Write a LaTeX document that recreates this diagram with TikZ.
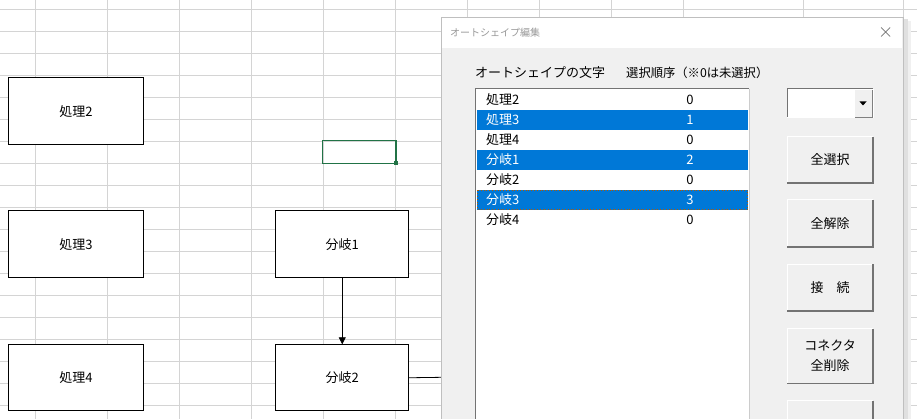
\documentclass[tikz,border=0pt]{standalone}
\usepackage{fontspec}
\setmainfont{Noto Sans CJK JP}
\usetikzlibrary{arrows.meta}
\definecolor{selblue}{HTML}{0078D7}
\definecolor{dlgbg}{HTML}{F0F0F0}
\definecolor{gridc}{HTML}{D4D4D4}
\definecolor{xlgreen}{HTML}{217346}
\tikzset{
  shape box/.style={draw=black,line width=0.9pt,fill=white},
  txt/.style={font=\fontsize{13}{15}\selectfont,inner sep=0pt},
  btn/.style={fill=dlgbg,draw=white,line width=1pt},
}
\begin{document}
\begin{tikzpicture}[x=1pt,y=-1pt]
\useasboundingbox (0,0) rectangle (917,419);
\fill[white] (0,0) rectangle (917,419);
% grid
\foreach \x in {35.7,107.7,179.7,251.7,323.7,395.7,467,539,611,683,803,903}
  \draw[gridc,line width=0.7pt] (\x,0) -- (\x,419);
\foreach \k in {0,...,18}
  \draw[gridc,line width=0.7pt] (0,9.3+22*\k) -- (917,9.3+22*\k);
% green selected cell
\draw[xlgreen,line width=1.3pt] (322.7,140.7) rectangle (396,163.7);
\fill[xlgreen] (394,161.5) rectangle (398,165.5);
% shapes
\node[shape box,minimum width=134.4pt,minimum height=67pt,anchor=north west,txt] (p2) at (8.3,77.3) {処理2};
\node[shape box,minimum width=134.4pt,minimum height=67pt,anchor=north west,txt] (p3) at (8.3,210.3) {処理3};
\node[shape box,minimum width=134.4pt,minimum height=66pt,anchor=north west,txt] (p4) at (8.3,344.3) {処理4};
\node[shape box,minimum width=133pt,minimum height=67pt,anchor=north west,txt] (b1) at (275.3,210.3) {分岐1};
\node[shape box,minimum width=133pt,minimum height=66pt,anchor=north west,txt] (b2) at (275.3,344.3) {分岐2};
\draw[line width=0.8pt,-{Triangle[length=7pt,width=7pt]}] (b1.south) -- (b2.north);
\coordinate (edge) at (442,377.3);
\draw[line width=0.8pt] (b2.east) -- (edge);
% dialog shadow
\fill[black!12] (903,19) rectangle (908,419);
\fill[black!6] (908,21) rectangle (911,419);
% dialog
\fill[dlgbg] (441,17) rectangle (903,419);
\fill[white] (442,18) rectangle (902,48);
\draw[black!25,line width=0.8pt] (441,419) -- (441,17) -- (903,17) -- (903,419);
\node[txt,anchor=west,text=black!40,font=\fontsize{10}{12}\selectfont] (title) at (450,33) {オートシェイプ編集};
\node[inner sep=0pt] (close) at (885.5,32) {};
\draw[black!55,line width=0.7pt] (881,27.5) -- (890,36.5) (890,27.5) -- (881,36.5);
\node[txt,anchor=west] (l1) at (475,73) {オートシェイプの文字};
\node[txt,anchor=west,font=\fontsize{12.3}{14}\selectfont] (l2) at (626,73) {選択順序（※0は未選択）};
% listbox
\fill[white] (475,89) rectangle (749,419);
\draw[black!55,line width=1pt] (475,419) -- (475,89) -- (749,89);
\draw[black!20,line width=1pt] (749,89) -- (749,419);
\foreach \i/\a/\b/\s in {0/処理2/0/0,1/処理3/1/1,2/処理4/0/0,3/分岐1/2/1,4/分岐2/0/0,5/分岐3/3/1,6/分岐4/0/0}{
  \ifnum\s=1
    \fill[selblue] (477,90+20*\i) rectangle (748,110+20*\i);
    \node[txt,anchor=west,text=white] at (486,100+20*\i) {\a};
    \node[txt,text=white] at (690,100+20*\i) {\b};
  \else
    \node[txt,anchor=west] at (486,100+20*\i) {\a};
    \node[txt] at (690,100+20*\i) {\b};
  \fi
}
\draw[orange!70!black,dotted,line width=0.8pt] (477.5,190.5) rectangle (747.5,209.5);
% combobox
\fill[white] (787,89) rectangle (873,118);
\draw[black!55,line width=1pt] (787,118) -- (787,89) -- (873,89);
\draw[white,line width=1pt] (873,89) -- (873,118) -- (787,118);
\fill[dlgbg] (855,90) rectangle (872,117);
\draw[black!50,line width=0.8pt] (855,117) -- (872,117) -- (872,90);
\fill[black] (859.5,101.5) -- (866.5,101.5) -- (863,105.5) -- cycle;
% buttons
\foreach \n/\ya/\yb/\t in {s1/137/183/全選択,s2/200/247/全解除,s3/264.3/311/接\quad 続}{
  \draw[btn] (787,\yb) -- (787,\ya) -- (873,\ya);
  \draw[black!55,line width=1.2pt] (787,\yb) -- (873,\yb) -- (873,\ya);
  \node[txt] (\n) at (830,{(\ya+\yb)/2}) {\t};
}
\draw[btn] (787,383.3) -- (787,328.7) -- (873,328.7);
\draw[black!55,line width=1.2pt] (787,383.3) -- (873,383.3) -- (873,328.7);
\node[txt,align=center,font=\fontsize{13}{20}\selectfont] (s4) at (830,356) {コネクタ\\全削除};
\draw[btn] (787,420) -- (787,400.5) -- (873,400.5);
\draw[black!55,line width=1.2pt] (873,400.5) -- (873,420);
\end{tikzpicture}
\end{document}
